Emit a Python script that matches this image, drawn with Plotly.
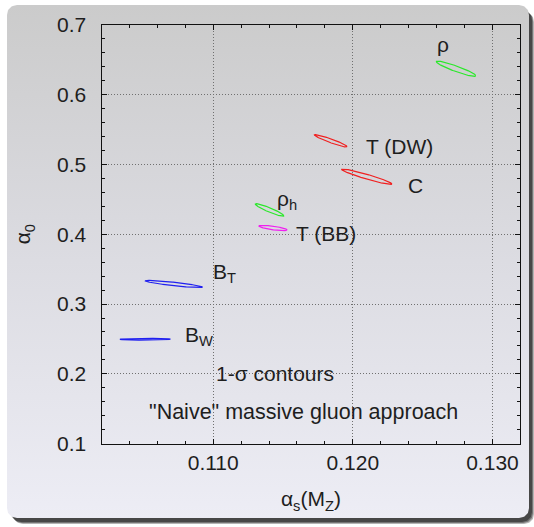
import numpy as np
import plotly.graph_objects as go

# ---- 1-sigma contours: centre, semi-axis along alpha_s, tilt of the major axis,
# ---- vertical half-width at the centre (all in data units)
names = ["B_T", "B_W", "rho_h", "T_BB", "T_DW", "C", "rho"]
cx = [0.10718, 0.10513, 0.11404, 0.11429, 0.11842, 0.12100, 0.12739]
cy = [0.3287, 0.2497, 0.4346, 0.4088, 0.5336, 0.4822, 0.6367]
semi_ax = [0.00206, 0.00181, 0.00102, 0.00101, 0.00117, 0.00180, 0.00141]
slope = [-2.2, 0.1, -8.2, -2.8, -7.2, -5.8, -7.1]
half_h = [0.0024, 0.0012, 0.0033, 0.0026, 0.0029, 0.0035, 0.0042]
colors = ["#2020f0", "#2020f0", "#2ae82a", "#f020f0", "#f02020", "#f02020", "#2ae82a"]

# ---- observable labels next to each contour
labels = ["B<sub>T</sub>", "B<sub>W</sub>", "ρ<sub>h</sub>", "T (BB)", "T (DW)", "C", "ρ"]
label_x = [0.10984, 0.10787, 0.11439, 0.11578, 0.12080, 0.12381, 0.12588]
label_y = [0.3440, 0.2545, 0.4489, 0.4006, 0.5254, 0.4703, 0.6707]

# ---- axes
x_range = [0.102, 0.132]
y_range = [0.1, 0.7]
x_ticks = [0.110, 0.120, 0.130]
y_ticks = [0.1, 0.2, 0.3, 0.4, 0.5, 0.6, 0.7]

W, H = 534, 527
PLOT_L, PLOT_R, PLOT_T, PLOT_B = 101.5, 520.4, 24.5, 443.8
FONT = "Liberation Sans, Arial, sans-serif"
TXT = "#1e1e1e"
FS = 21

fig = go.Figure()


def rounded_rect(x0, y0, x1, y1, r, n=12):
    """Closed outline of a rounded rectangle in pixel units (y downward)."""
    pts = []
    corners = [(x1 - r, y0 + r, -np.pi / 2, 0), (x1 - r, y1 - r, 0, np.pi / 2),
               (x0 + r, y1 - r, np.pi / 2, np.pi), (x0 + r, y0 + r, np.pi, 1.5 * np.pi)]
    for ccx, ccy, a0, a1 in corners:
        a = np.linspace(a0, a1, n)
        pts += list(zip(ccx + r * np.cos(a), ccy + r * np.sin(a)))
    pts.append(pts[0])
    xs, ys = zip(*pts)
    return list(xs), list(ys)


# background panel (pixel-unit subplot underneath the data axes)
for off, op in [(6, 0.35), (5, 0.45), (4, 0.6)]:
    sx, sy = rounded_rect(7 + off, 5 + off + 1, 529 + off - 1, 518 + off, 10)
    fig.add_trace(go.Scatter(x=sx, y=sy, mode="lines", fill="toself",
                             fillcolor=f"rgba(40,40,40,{op})", line=dict(width=0),
                             hoverinfo="skip", showlegend=False, xaxis="x", yaxis="y"))
px_, py_ = rounded_rect(7, 5, 529, 518, 10)
fig.add_trace(go.Scatter(
    x=px_, y=py_, mode="lines", fill="toself", line=dict(width=0),
    fillgradient=dict(type="vertical",
                      colorscale=[[0, "#ededf5"], [0.5, "#dcdce2"], [1, "#cbcbcb"]]),
    hoverinfo="skip", showlegend=False, xaxis="x", yaxis="y"))

# contours
t = np.linspace(0, 2 * np.pi, 241)
for i in range(len(names)):
    ex = cx[i] + semi_ax[i] * np.cos(t)
    ey = cy[i] + semi_ax[i] * slope[i] * np.cos(t) + half_h[i] * np.sin(t)
    fig.add_trace(go.Scatter(x=ex, y=ey, mode="lines", name=names[i],
                             line=dict(color=colors[i], width=1.2),
                             showlegend=False, xaxis="x2", yaxis="y2"))

annotations = []
for lab, lx, ly in zip(labels, label_x, label_y):
    annotations.append(dict(x=lx, y=ly, xref="x2", yref="y2", text=lab, showarrow=False,
                            xanchor="left", yanchor="middle",
                            font=dict(family=FONT, size=FS, color=TXT)))
annotations.append(dict(x=0.11446, y=0.2000, xref="x2", yref="y2", text="1-σ contours",
                        showarrow=False, xanchor="center", yanchor="middle",
                        font=dict(family=FONT, size=FS, color=TXT)))
annotations.append(dict(x=0.11646, y=0.1459, xref="x2", yref="y2",
                        text="\"Naive\" massive gluon approach",
                        showarrow=False, xanchor="center", yanchor="middle",
                        font=dict(family=FONT, size=FS + 0.5, color=TXT)))

axis_common = dict(showline=True, linecolor="#111", linewidth=1, mirror="ticks",
                   ticks="inside", ticklen=5, tickcolor="#111", tickwidth=1,
                   showgrid=True, gridcolor="#707070", griddash="1px,2px", gridwidth=1,
                   zeroline=False, automargin=False,
                   tickfont=dict(family=FONT, size=FS, color=TXT))

fig.update_layout(
    width=W, height=H,
    margin=dict(l=0, r=0, t=0, b=0, autoexpand=False),
    paper_bgcolor="white", plot_bgcolor="rgba(0,0,0,0)",
    showlegend=False,
    xaxis=dict(domain=[0, 1], range=[0, W], visible=False, fixedrange=True,
               automargin=False),
    yaxis=dict(domain=[0, 1], range=[H, 0], visible=False, fixedrange=True,
               automargin=False),
    xaxis2=dict(domain=[PLOT_L / W, PLOT_R / W], anchor="y2", range=x_range,
                tickvals=x_ticks, ticktext=[f"{v:.3f}" for v in x_ticks],
                minor=dict(ticks="inside", dtick=0.002, ticklen=3, tickcolor="#111",
                           showgrid=False),
                title=dict(text="α<sub>s</sub>(M<sub>Z</sub>)", standoff=18,
                           font=dict(family=FONT, size=FS, color=TXT)),
                **axis_common),
    yaxis2=dict(domain=[1 - PLOT_B / H, 1 - PLOT_T / H], anchor="x2", range=y_range,
                tickvals=y_ticks, ticktext=[f"{v:.1f}" for v in y_ticks],
                minor=dict(ticks="inside", dtick=0.02, ticklen=3, tickcolor="#111",
                           showgrid=False),
                ticklabelstandoff=10,
                title=dict(text="α<sub>0</sub>", standoff=20,
                           font=dict(family=FONT, size=FS, color=TXT)),
                **axis_common),
    annotations=annotations,
)

fig.write_html("out.html")
